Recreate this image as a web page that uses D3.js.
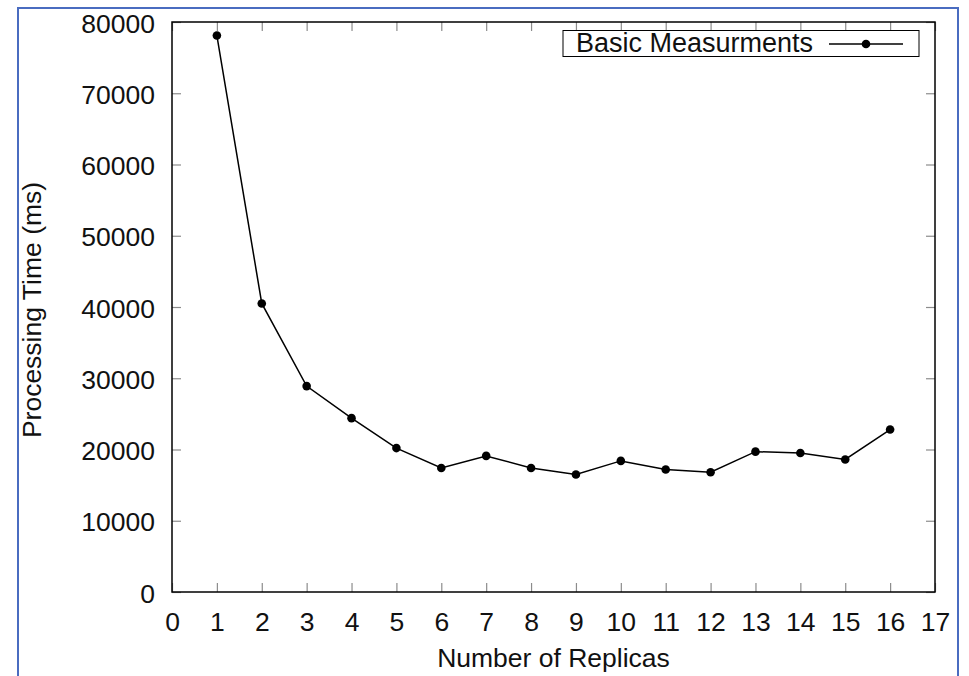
<!DOCTYPE html>
<html>
<head>
<meta charset="utf-8">
<script src="https://cdn.jsdelivr.net/npm/d3@7"></script>
<style>
  html, body { margin: 0; padding: 0; background: #fff; }
  svg { display: block; }
  .axis text { font-family: "Liberation Sans", Arial, sans-serif; font-size: 26.5px; fill: #111; }
  .axis .tick line { stroke: #8c8c8c; stroke-width: 1.2; }
  .axis path.domain { display: none; }
  .label { font-family: "Liberation Sans", Arial, sans-serif; font-size: 26.5px; fill: #111; }
</style>
</head>
<body>
<div id="chart"></div>
<script>
// Data.
const replicas = [1, 2, 3, 4, 5, 6, 7, 8, 9, 10, 11, 12, 13, 14, 15, 16];
const timeMs = [78100, 40500, 28900, 24400, 20200, 17400, 19100, 17400, 16500,
  18400, 17200, 16800, 19700, 19500, 18600, 22800];
const xTicks = d3.range(0, 18);
const yTicks = [0, 10000, 20000, 30000, 40000, 50000, 60000, 70000, 80000];
const seriesName = 'Basic Measurments';

const W = 969, H = 676;
const margin = { top: 22, right: 34, bottom: 84, left: 172 };
const width = W - margin.left - margin.right;
const height = H - margin.top - margin.bottom;

const svg = d3.select('#chart').append('svg')
  .attr('width', W)
  .attr('height', H);

// Blue outer frame (bottom edge runs off the picture).
svg.append('path')
  .attr('d', `M18,${H + 5}V8H958V${H + 5}`)
  .attr('fill', 'none')
  .attr('stroke', '#4a6cc0')
  .attr('stroke-width', 2);

const g = svg.append('g')
  .attr('transform', `translate(${margin.left},${margin.top})`);

const x = d3.scaleLinear().domain([0, 17]).range([0, width]);
const y = d3.scaleLinear().domain([0, 80000]).range([height, 0]);

// Inward ticks on all four sides, gnuplot style.
g.append('g')
  .attr('class', 'axis')
  .attr('transform', `translate(0,${height})`)
  .call(d3.axisBottom(x).tickValues(xTicks).tickSize(-9).tickPadding(20).tickFormat(d3.format('d')));

g.append('g')
  .attr('class', 'axis')
  .call(d3.axisLeft(y).tickValues(yTicks).tickSize(-9).tickPadding(17).tickFormat(d3.format('d')))
  .selectAll('.tick text').attr('dy', '0.38em');

g.append('g')
  .attr('class', 'axis')
  .call(d3.axisTop(x).tickValues(xTicks).tickSize(-9).tickFormat(''));

g.append('g')
  .attr('class', 'axis')
  .attr('transform', `translate(${width},0)`)
  .call(d3.axisRight(y).tickValues(yTicks).tickSize(-9).tickFormat(''));

// Plot frame.
g.append('rect')
  .attr('width', width)
  .attr('height', height)
  .attr('fill', 'none')
  .attr('stroke', '#000')
  .attr('stroke-width', 1.5);

const pts = replicas.map((r, i) => ({ r: r, v: timeMs[i] }));

g.append('path')
  .datum(pts)
  .attr('fill', 'none')
  .attr('stroke', '#000')
  .attr('stroke-width', 1.5)
  .attr('d', d3.line().x(d => x(d.r)).y(d => y(d.v)));

g.selectAll('circle.pt')
  .data(pts)
  .enter()
  .append('circle')
  .attr('class', 'pt')
  .attr('r', 4.3)
  .attr('cx', d => x(d.r))
  .attr('cy', d => y(d.v))
  .attr('fill', '#000');

// Axis titles.
svg.append('text')
  .attr('class', 'label')
  .attr('text-anchor', 'middle')
  .attr('x', margin.left + width / 2)
  .attr('y', 667)
  .text('Number of Replicas');

svg.append('text')
  .attr('class', 'label')
  .attr('text-anchor', 'middle')
  .attr('transform', `translate(41,${margin.top + height / 2 + 3}) rotate(-90)`)
  .text('Processing Time (ms)');

// Legend.
const legend = svg.append('g').attr('class', 'legend');
legend.append('rect')
  .attr('x', 563).attr('y', 30.5)
  .attr('width', 356).attr('height', 26)
  .attr('fill', '#fff')
  .attr('stroke', '#000')
  .attr('stroke-width', 1);
legend.append('text')
  .attr('class', 'label')
  .attr('x', 576).attr('y', 52)
  .style('font-size', '27px')
  .text(seriesName);
legend.append('line')
  .attr('x1', 829).attr('x2', 903)
  .attr('y1', 44).attr('y2', 44)
  .attr('stroke', '#000')
  .attr('stroke-width', 1.5);
legend.append('circle')
  .attr('cx', 866).attr('cy', 44)
  .attr('r', 4.3)
  .attr('fill', '#000');
</script>
</body>
</html>
